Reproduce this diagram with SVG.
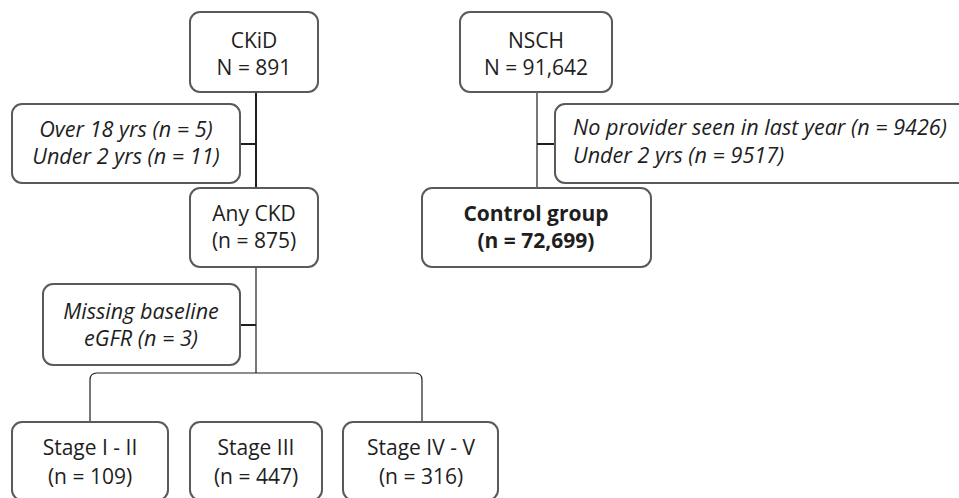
<svg xmlns="http://www.w3.org/2000/svg" width="959" height="498" viewBox="0 0 959 498">
<style>
.box{fill:#fff;stroke:#5a5a5a;stroke-width:2}
.t{font-family:"Open Sans","Noto Sans",sans-serif;font-size:21px;fill:#1e1e1e;text-anchor:middle}
.i{font-style:italic;font-size:21.6px}
.b{font-weight:bold}
.l{text-anchor:start}
.c{fill:none;stroke:#1e1e1e}
</style>
<rect width="959" height="498" fill="#fff"/>
<g id="connectors">
<line class="c" x1="256" y1="92" x2="256" y2="188" stroke-width="2"/>
<line class="c" x1="240" y1="144" x2="256" y2="144" stroke-width="2"/>
<line class="c" x1="256" y1="267" x2="256" y2="373" stroke-width="1.2"/>
<line class="c" x1="240" y1="325" x2="256" y2="325" stroke-width="2"/>
<path class="c" d="M90,422 V380 Q90,373 97,373 H415 Q422,373 422,380 V422" stroke-width="1.2"/>
<line class="c" x1="537" y1="92" x2="537" y2="188" stroke-width="1.2"/>
<line class="c" x1="537" y1="144" x2="555" y2="144" stroke-width="2"/>
</g>
<g id="ckid">
<rect class="box" x="190" y="12" width="128" height="80" rx="10"/>
<text class="t" x="254" y="48">CKiD</text>
<text class="t" x="254" y="75">N = 891</text>
</g>
<g id="excl-ckid">
<rect class="box" x="12" y="104" width="228" height="79" rx="10"/>
<text class="t i" x="126" y="137">Over 18 yrs (n = 5)</text>
<text class="t i" x="126" y="164">Under 2 yrs (n = 11)</text>
</g>
<g id="anyckd">
<rect class="box" x="190" y="188" width="128" height="79" rx="10"/>
<text class="t" x="254" y="221">Any CKD</text>
<text class="t" x="254" y="248">(n = 875)</text>
</g>
<g id="missing">
<rect class="box" x="43" y="284" width="197" height="81" rx="10"/>
<text class="t i" x="141" y="319">Missing baseline</text>
<text class="t i" x="141" y="346">eGFR (n = 3)</text>
</g>
<g id="stage12">
<rect class="box" x="12" y="422" width="156" height="78" rx="10"/>
<text class="t" x="90" y="455">Stage I - II</text>
<text class="t" x="90" y="484">(n = 109)</text>
</g>
<g id="stage3">
<rect class="box" x="190" y="422" width="132" height="78" rx="10"/>
<text class="t" x="256" y="455">Stage III</text>
<text class="t" x="256" y="484">(n = 447)</text>
</g>
<g id="stage45">
<rect class="box" x="343" y="422" width="155" height="78" rx="10"/>
<text class="t" x="421" y="455">Stage IV - V</text>
<text class="t" x="421" y="484">(n = 316)</text>
</g>
<g id="nsch">
<rect class="box" x="460" y="12" width="152" height="80" rx="10"/>
<text class="t" x="536" y="48">NSCH</text>
<text class="t" x="536" y="75">N = 91,642</text>
</g>
<g id="excl-nsch">
<rect class="box" x="555" y="104" width="420" height="79" rx="10"/>
<text class="t i l" x="573" y="135">No provider seen in last year (n = 9426)</text>
<text class="t i l" x="573" y="163">Under 2 yrs (n = 9517)</text>
</g>
<g id="control">
<rect class="box" x="422" y="188" width="229" height="79" rx="10"/>
<text class="t b" x="536" y="221">Control group</text>
<text class="t b" x="536" y="248">(n = 72,699)</text>
</g>
</svg>
